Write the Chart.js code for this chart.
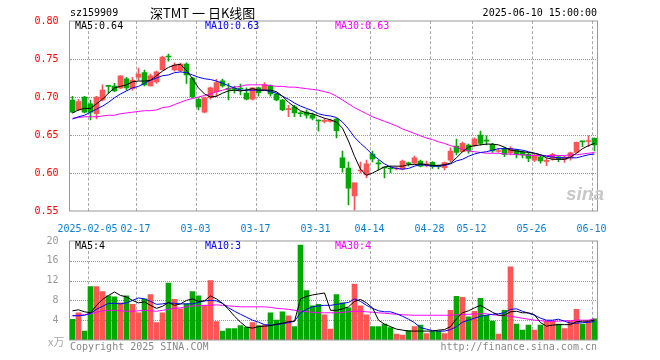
<!DOCTYPE html>
<html>
<head>
<meta charset="utf-8">
<script src="https://cdn.jsdelivr.net/npm/chart.js@4.4.1/dist/chart.umd.min.js"></script>
<style>
  body { margin: 0; background: #fff; }
  #wrap { position: relative; width: 660px; height: 360px; overflow: hidden; background: #fff;
          font-family: "DejaVu Sans Mono", monospace; font-size: 10px; }
  canvas { position: absolute; left: 0; }
  .t { position: absolute; white-space: pre; line-height: 12px; }
  .hgrid { position: absolute; height: 0; border-top: 1px dotted #999; }
  .vgrid { position: absolute; width: 0; border-left: 1px dashed #aaa; }
</style>
</head>
<body>
<div id="wrap">
  <canvas id="kline" width="660" height="232" style="top:0"></canvas>
  <canvas id="vol" width="660" height="128" style="top:232px"></canvas>

  <div class="t" style="left:70px;top:7px;color:#000">sz159909</div>
  <div class="t" style="left:150px;top:5px;font-family:'Noto Sans CJK SC';font-size:13px;line-height:16px;color:#000">深TMT 一 日K线图</div>
  <div class="t" style="right:63px;top:7px;color:#000">2025-06-10 15:00:00</div>

  <div class="t" style="left:75px;top:20px;color:#000">MA5:0.64</div>
  <div class="t" style="left:205px;top:20px;color:#0000ff">MA10:0.63</div>
  <div class="t" style="left:335px;top:20px;color:#ff00ff">MA30:0.63</div>

  <div class="t" style="left:75px;top:240px;color:#000">MA5:4</div>
  <div class="t" style="left:205px;top:240px;color:#0000ff">MA10:3</div>
  <div class="t" style="left:335px;top:240px;color:#ff00ff">MA30:4</div>

  <div class="t" style="left:566px;top:184px;font-family:'Liberation Sans';font-weight:bold;font-style:italic;font-size:19px;line-height:20px;color:#c8c8c8">sina</div>
  <div class="t" style="left:48px;top:335px;font-family:'Noto Sans CJK SC';font-size:11px;color:#aaa">x万</div>
  <div class="t" style="left:70px;top:341px;color:#888">Copyright 2025 SINA.COM</div>
  <div class="t" style="right:63px;top:341px;color:#888">http://finance.sina.com.cn</div>
</div>

<script>
// trading days shown on the chart
const dates = [
  '2025-01-23','2025-01-24','2025-01-27',
  '2025-02-05','2025-02-06','2025-02-07','2025-02-10','2025-02-11','2025-02-12','2025-02-13','2025-02-14',
  '2025-02-17','2025-02-18','2025-02-19','2025-02-20','2025-02-21','2025-02-24','2025-02-25','2025-02-26','2025-02-27','2025-02-28',
  '2025-03-03','2025-03-04','2025-03-05','2025-03-06','2025-03-07','2025-03-10','2025-03-11','2025-03-12','2025-03-13','2025-03-14',
  '2025-03-17','2025-03-18','2025-03-19','2025-03-20','2025-03-21','2025-03-24','2025-03-25','2025-03-26','2025-03-27','2025-03-28',
  '2025-03-31','2025-04-01','2025-04-02','2025-04-03','2025-04-07','2025-04-08','2025-04-09','2025-04-10','2025-04-11',
  '2025-04-14','2025-04-15','2025-04-16','2025-04-17','2025-04-18','2025-04-21','2025-04-22','2025-04-23','2025-04-24','2025-04-25',
  '2025-04-28','2025-04-29','2025-04-30','2025-05-06','2025-05-07','2025-05-08','2025-05-09',
  '2025-05-12','2025-05-13','2025-05-14','2025-05-15','2025-05-16','2025-05-19','2025-05-20','2025-05-21','2025-05-22','2025-05-23',
  '2025-05-26','2025-05-27','2025-05-28','2025-05-29','2025-05-30','2025-06-03','2025-06-04','2025-06-05','2025-06-06',
  '2025-06-09','2025-06-10'
];

// dates that get a dashed line and a label
const axisDates = ['2025-02-05','2025-02-17','2025-03-03','2025-03-17','2025-03-31',
                   '2025-04-14','2025-04-28','2025-05-12','2025-05-26','2025-06-10'];

const open = [0.696,0.683,0.700,0.691,0.678,0.696,0.7145,0.7145,0.712,0.724,
  0.711,0.726,0.732,0.7145,0.720,0.7355,0.7533,0.7355,0.7346,0.7434,
  0.725,0.697,0.680,0.699,0.707,0.7214,0.7105,0.7105,0.711,0.705,
  0.697,0.712,0.709,0.7145,0.704,0.696,0.6833,0.687,0.679,0.680,
  0.6767,0.669,0.668,0.668,0.671,0.620,0.6066,0.570,0.6026,0.5974,
  0.625,0.6125,0.6072,0.606,0.6053,0.6053,0.6125,0.613,0.6158,0.6105,
  0.614,0.609,0.607,0.617,0.6355,0.628,0.6368,0.636,0.650,0.6428,
  0.6378,0.6283,0.6325,0.6263,0.6303,0.6272,0.6246,0.617,0.6214,0.6154,
  0.6193,0.6214,0.618,0.620,0.6272,0.6417,0.6414,0.6457];

const high = [0.701,0.697,0.701,0.696,0.701,0.716,0.7145,0.718,0.728,0.726,
  0.726,0.738,0.7355,0.730,0.734,0.754,0.7566,0.745,0.7447,0.745,
  0.726,0.699,0.700,0.713,0.7233,0.7237,0.718,0.7145,0.717,0.712,
  0.712,0.713,0.719,0.716,0.705,0.697,0.689,0.689,0.6807,0.683,
  0.679,0.670,0.672,0.671,0.672,0.629,0.6145,0.587,0.6145,0.617,
  0.629,0.617,0.608,0.609,0.608,0.617,0.6145,0.6224,0.617,0.6158,
  0.615,0.6105,0.6145,0.633,0.6447,0.6408,0.638,0.6464,0.6553,0.649,
  0.639,0.6325,0.6338,0.6346,0.6316,0.629,0.6263,0.6246,0.6228,0.6193,
  0.626,0.6228,0.6224,0.6276,0.6408,0.6421,0.649,0.6464];

const low = [0.679,0.682,0.679,0.670,0.671,0.695,0.705,0.707,0.711,0.709,
  0.709,0.722,0.7145,0.7145,0.718,0.7355,0.747,0.734,0.733,0.718,
  0.699,0.683,0.679,0.697,0.7004,0.713,0.696,0.705,0.7026,0.696,
  0.696,0.701,0.709,0.701,0.695,0.682,0.674,0.674,0.674,0.672,
  0.670,0.655,0.666,0.667,0.646,0.601,0.558,0.551,0.600,0.5934,
  0.6145,0.604,0.5934,0.600,0.604,0.604,0.609,0.612,0.608,0.608,
  0.606,0.6053,0.604,0.6145,0.6237,0.6276,0.626,0.6346,0.6368,0.6368,
  0.6272,0.6272,0.6214,0.6237,0.620,0.6197,0.615,0.615,0.6128,0.6096,
  0.617,0.615,0.614,0.617,0.6263,0.6346,0.6346,0.629];

const close = [0.680,0.694,0.680,0.680,0.700,0.709,0.714,0.708,0.728,0.712,
  0.722,0.730,0.716,0.728,0.733,0.7526,0.7526,0.742,0.7434,0.729,
  0.700,0.687,0.699,0.712,0.719,0.7145,0.710,0.710,0.7105,0.697,
  0.712,0.7057,0.716,0.704,0.696,0.683,0.6838,0.679,0.678,0.676,
  0.672,0.6684,0.669,0.669,0.6557,0.607,0.580,0.587,0.6033,0.612,
  0.6184,0.612,0.6066,0.6053,0.6066,0.6158,0.612,0.620,0.609,0.612,
  0.6083,0.6083,0.6136,0.629,0.6272,0.639,0.629,0.6447,0.639,0.642,
  0.629,0.629,0.6246,0.6325,0.6246,0.6237,0.6193,0.6237,0.6158,0.6158,
  0.6246,0.6184,0.621,0.6267,0.6404,0.641,0.642,0.6368];

// moving averages as drawn on the price panel
const ma5 = [0.679,0.683,0.685,0.685,0.691,0.697,0.705,0.712,0.714,0.716,
  0.720,0.721,0.721,0.722,0.728,0.734,0.739,0.742,0.743,0.735,
  0.724,0.712,0.704,0.700,0.701,0.705,0.708,0.709,0.708,0.709,
  0.711,0.709,0.709,0.709,0.707,0.701,0.693,0.687,0.682,0.679,
  0.678,0.675,0.672,0.670,0.667,0.659,0.642,0.622,0.605,0.597,
  0.600,0.604,0.608,0.609,0.609,0.609,0.611,0.611,0.612,0.611,
  0.610,0.610,0.611,0.613,0.620,0.628,0.634,0.636,0.637,0.638,
  0.638,0.637,0.634,0.630,0.629,0.628,0.627,0.626,0.624,0.620,
  0.618,0.618,0.618,0.621,0.626,0.632,0.636,0.639];

const ma10 = [0.671,0.674,0.676,0.680,0.684,0.688,0.693,0.699,0.704,0.708,
  0.712,0.714,0.718,0.722,0.725,0.728,0.729,0.732,0.733,0.732,
  0.729,0.726,0.724,0.723,0.721,0.718,0.715,0.712,0.709,0.709,
  0.709,0.709,0.709,0.707,0.705,0.701,0.697,0.692,0.688,0.685,
  0.682,0.678,0.676,0.675,0.673,0.667,0.658,0.647,0.639,0.632,
  0.624,0.618,0.612,0.608,0.606,0.605,0.606,0.609,0.611,0.610,
  0.609,0.609,0.610,0.612,0.616,0.618,0.622,0.625,0.627,0.628,
  0.630,0.632,0.632,0.632,0.631,0.630,0.628,0.626,0.624,0.622,
  0.621,0.620,0.620,0.620,0.620,0.622,0.624,0.625];

const ma30 = [0.672,0.673,0.674,0.674,0.674,0.675,0.676,0.676,0.678,0.679,
  0.680,0.681,0.682,0.682,0.683,0.686,0.687,0.690,0.693,0.696,
  0.698,0.700,0.702,0.704,0.707,0.709,0.711,0.713,0.714,0.716,
  0.716,0.716,0.716,0.715,0.714,0.714,0.713,0.713,0.712,0.711,
  0.710,0.709,0.707,0.705,0.701,0.696,0.691,0.686,0.682,0.678,
  0.674,0.671,0.668,0.665,0.662,0.658,0.655,0.652,0.649,0.646,
  0.644,0.641,0.639,0.636,0.634,0.631,0.629,0.628,0.627,0.626,
  0.626,0.626,0.625,0.625,0.624,0.624,0.623,0.623,0.623,0.623,
  0.623,0.623,0.623,0.624,0.624,0.625,0.626,0.627];

// volume in units of 10k (x万)
const volume = [4.2,5.5,1.8,10.8,10.8,9.8,8.9,8.7,7.5,8.9,
  7.2,5.5,8.3,9.2,3.5,5.5,11.5,8.2,6.3,7.3,
  9.8,8.9,7.0,12.0,3.7,1.8,2.3,2.3,2.9,2.6,
  3.5,2.9,3.0,5.5,4.0,5.7,4.9,2.7,19.2,10.0,
  6.9,7.2,5.1,2.2,9.2,7.5,6.5,11.3,6.9,5.1,
  2.7,2.7,3.2,2.5,1.2,1.0,1.9,2.7,3.0,1.3,
  1.7,1.8,1.3,6.0,8.8,8.6,4.7,5.8,8.4,5.0,
  3.8,1.2,6.0,14.8,3.2,2.0,3.0,2.0,3.0,3.8,
  3.8,3.2,2.3,3.8,6.2,3.2,3.8,4.3];

const volMa5 = [5.9,6.1,5.7,5.5,7.0,8.2,9.0,9.7,9.0,8.7,
  8.0,7.5,7.7,7.0,6.4,6.8,7.6,7.0,7.3,8.0,
  8.3,7.8,7.9,8.9,8.3,7.4,6.2,4.8,3.6,2.6,
  2.4,2.7,2.8,2.9,3.2,3.4,3.7,3.8,8.3,8.8,
  9.1,9.3,9.5,6.0,6.0,6.3,6.7,7.8,8.2,7.5,
  6.5,4.0,3.2,2.7,2.2,2.0,1.8,1.8,1.8,1.8,
  1.8,2.0,2.1,2.7,4.3,5.5,5.9,6.5,7.0,6.3,
  5.6,5.0,5.0,5.7,5.8,5.5,5.5,5.1,3.5,2.8,
  3.0,3.1,3.1,3.1,3.7,3.8,3.8,4.0];

const volMa10 = [4.9,4.9,5.0,5.4,6.2,6.8,7.4,7.4,7.3,7.5,
  8.0,8.5,8.3,7.8,7.2,7.3,7.5,7.4,7.3,7.3,
  7.3,7.6,7.9,8.0,7.9,7.4,6.5,5.8,5.2,4.6,
  4.0,3.6,3.1,3.0,3.1,3.3,3.5,3.8,5.5,6.2,
  6.7,6.9,7.0,7.0,7.2,7.4,7.6,8.3,7.8,7.0,
  6.4,5.9,5.7,5.7,5.3,4.8,4.2,3.5,2.5,2.2,
  1.9,1.8,1.8,2.1,2.7,3.6,4.0,4.4,4.8,5.0,
  5.2,5.3,5.5,6.2,6.3,5.8,5.4,5.0,4.4,4.0,
  4.0,4.2,3.8,3.4,3.4,3.5,3.6,3.7];

const volMa30 = [4.9,5.0,5.1,5.3,5.6,5.9,6.0,6.0,5.9,5.8,
  5.8,5.9,6.0,5.9,5.8,6.0,6.2,6.4,6.5,6.7,
  6.9,6.9,7.0,7.0,7.1,7.0,6.9,6.8,6.7,6.7,
  6.7,6.7,6.7,6.6,6.4,6.3,6.2,6.0,5.8,5.7,
  5.6,5.5,5.5,5.5,5.5,5.6,5.7,5.8,5.8,5.7,
  5.6,5.5,5.4,5.3,5.2,5.1,5.05,5.0,5.0,5.0,
  5.0,5.0,5.0,5.0,5.1,5.15,5.2,5.25,5.3,5.3,
  5.1,5.0,4.9,4.8,4.6,4.4,4.2,4.0,3.9,3.8,
  3.8,3.8,3.9,3.9,4.0,4.0,4.0,4.3];

const RED = '#ff5555';
const GREEN = '#00a800';
const MONO = 'DejaVu Sans Mono';

const candleColor = close.map((c, i) => c >= open[i] ? RED : GREEN);
const marked = new Set(axisDates);

// box round the plot area
const frame = {
  id: 'frame',
  afterDatasetsDraw(chart) {
    const a = chart.chartArea, ctx = chart.ctx;
    ctx.save();
    ctx.strokeStyle = '#999';
    ctx.lineWidth = 1;
    ctx.strokeRect(a.left, a.top, a.right - a.left, a.bottom - a.top);
    ctx.restore();
  }
};

// dotted value lines and dashed date lines as css borders under the canvas,
// placed from the chart's own scales
function addGrid(chart, offsetTop) {
  const wrap = document.getElementById('wrap');
  const a = chart.chartArea, xs = chart.scales.x, ys = chart.scales.y;
  ys.ticks.forEach(t => {
    if (t.value <= ys.min + 1e-9 || t.value >= ys.max - 1e-9) return;
    const el = document.createElement('div');
    el.className = 'hgrid';
    el.style.left = Math.ceil(a.left) + 'px';
    el.style.width = Math.floor(a.right - a.left) + 'px';
    el.style.top = (offsetTop + Math.round(ys.getPixelForValue(t.value))) + 'px';
    wrap.insertBefore(el, wrap.firstChild);
  });
  const half = (xs.getPixelForValue(1) - xs.getPixelForValue(0)) / 2;
  dates.forEach((d, i) => {
    if (!marked.has(d)) return;
    const el = document.createElement('div');
    el.className = 'vgrid';
    el.style.left = Math.ceil(xs.getPixelForValue(i) - half) + 'px';
    el.style.top = (offsetTop + Math.ceil(a.top)) + 'px';
    el.style.height = Math.floor(a.bottom - a.top) + 'px';
    wrap.insertBefore(el, wrap.firstChild);
  });
}

function lineSet(data, color) {
  return { type: 'line', data: data, borderColor: color, borderWidth: 1,
           pointRadius: 0, tension: 0, order: 0 };
}

function xAxis(showLabels, height) {
  return {
    offset: true,
    afterFit: s => { s.height = height; },
    grid: { display: false },
    border: { display: false },
    ticks: {
      display: showLabels, autoSkip: false, maxRotation: 0, minRotation: 0,
      padding: 4, labelOffset: -3, color: '#0a7fd9',
      font: { family: MONO, size: 10 },
      callback: (v, i) => {
        if (!marked.has(dates[i])) return '';
        return dates[i] === axisDates[0] ? dates[i] : dates[i].slice(5);
      }
    }
  };
}

const kline = new Chart(document.getElementById('kline'), {
  type: 'bar',
  data: {
    labels: dates,
    datasets: [
      lineSet(ma5, '#000000'),
      lineSet(ma10, '#0000ff'),
      lineSet(ma30, '#ff00ff'),
      { data: dates.map((d, i) => [low[i], high[i]]), backgroundColor: candleColor,
        barThickness: 1, grouped: false, order: 2 },
      { data: dates.map((d, i) => [open[i], close[i]]), backgroundColor: candleColor,
        barThickness: 5, minBarLength: 1, grouped: false, order: 1 }
    ]
  },
  options: {
    responsive: false, animation: false,
    layout: { padding: { top: 21, right: 62.5, left: 0, bottom: 0 } },
    plugins: { legend: { display: false }, tooltip: { enabled: false } },
    scales: {
      x: xAxis(true, 21),
      y: {
        min: 0.55, max: 0.80,
        afterFit: s => { s.width = 69.5; },
        grid: { display: false },
        border: { display: false },
        ticks: { stepSize: 0.05, padding: 3, color: '#ff0000',
                 font: { family: MONO, size: 10 }, callback: v => v.toFixed(2) }
      }
    }
  },
  plugins: [frame]
});

const vol = new Chart(document.getElementById('vol'), {
  type: 'bar',
  data: {
    labels: dates,
    datasets: [
      lineSet(volMa5, '#000000'),
      lineSet(volMa10, '#0000ff'),
      lineSet(volMa30, '#ff00ff'),
      { data: volume, backgroundColor: candleColor, barThickness: 5, grouped: false, order: 1 }
    ]
  },
  options: {
    responsive: false, animation: false,
    layout: { padding: { top: 8, right: 62.5, left: 0, bottom: 0 } },
    plugins: { legend: { display: false }, tooltip: { enabled: false } },
    scales: {
      x: xAxis(false, 20),
      y: {
        min: 0, max: 20,
        afterFit: s => { s.width = 69.5; },
        grid: { display: false },
        border: { display: false },
        ticks: { stepSize: 4, padding: 3, color: '#999999',
                 font: { family: MONO, size: 10 }, callback: v => v === 0 ? '' : v }
      }
    }
  },
  plugins: [frame]
});

addGrid(kline, 0);
addGrid(vol, 232);
</script>
</body>
</html>
